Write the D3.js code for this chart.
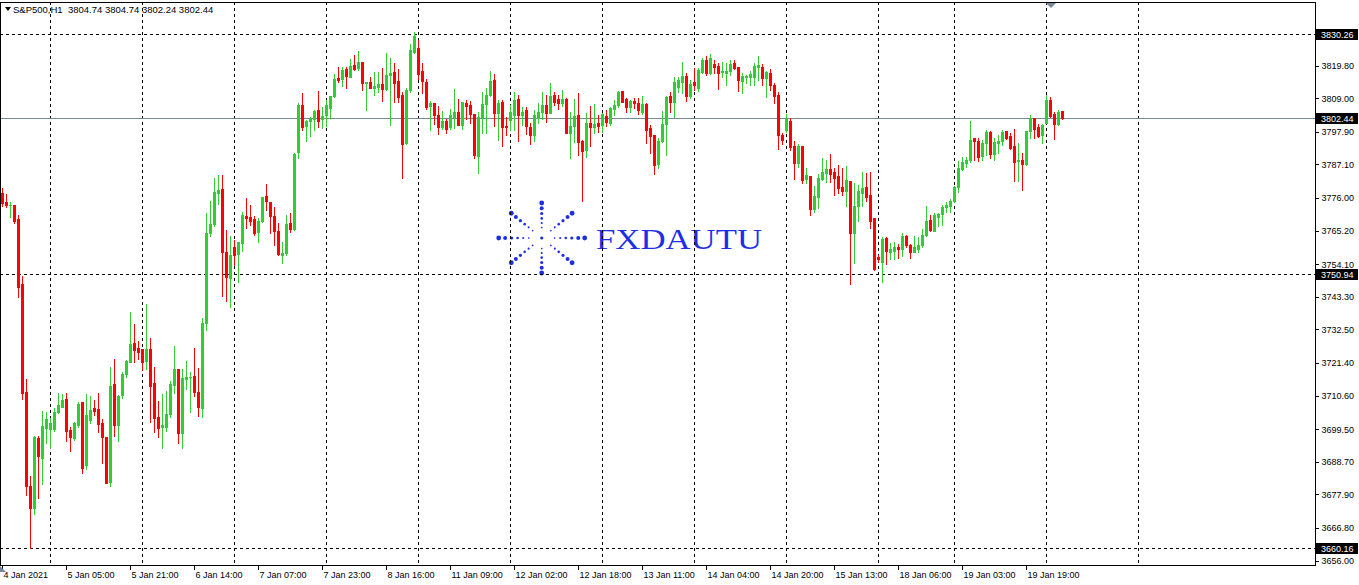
<!DOCTYPE html>
<html><head><meta charset="utf-8">
<script src="https://cdn.jsdelivr.net/npm/d3@7"></script>
<style>body{margin:0;background:#fff}svg{display:block}</style>
</head><body><svg id="c" width="1359" height="585"></svg>
<script>
const open=[
3777.6,3774.8,3773.7,3773.7,3768.9,3747.5,3711.8,3680.7,3673.5,3696.7,
3690.0,3700.0,3699.4,3699.5,3705.1,3706.9,3709.5,3699.2,3696.7,3700.9,
3708.4,3687.6,3702.5,3706.5,3706.1,3701.4,3696.8,3682.1,3714.4,3700.9,
3710.8,3717.7,3721.8,3728.0,3726.3,3726.0,3722.0,3726.0,3714.8,3703.5,
3700.3,3700.3,3704.5,3714.2,3719.4,3698.3,3716.0,3716.6,3717.1,3711.8,
3706.6,3734.5,3764.4,3767.4,3777.7,3779.0,3758.2,3749.6,3759.8,3757.4,
3761.2,3770.0,3769.7,3769.0,3764.7,3768.3,3776.6,3774.7,3770.0,3765.1,
3757.1,3757.9,3767.8,3765.7,3791.2,3806.8,3799.8,3801.6,3802.0,3805.1,
3802.0,3803.4,3805.7,3809.7,3815.8,3815.4,3818.7,3816.1,3820.0,3819.1,
3821.1,3813.9,3814.5,3812.3,3812.8,3813.7,3812.0,3816.7,3817.6,3814.7,
3810.1,3794.1,3811.7,3824.2,3825.5,3818.0,3814.5,3806.5,3807.3,3803.4,
3799.6,3801.6,3799.4,3802.9,3804.4,3800.0,3807.3,3806.7,3803.8,3790.0,
3802.9,3807.1,3810.1,3815.0,3804.2,3807.8,3799.8,3801.8,3803.4,3808.6,
3803.4,3805.1,3799.6,3796.8,3802.4,3804.5,3806.8,3804.2,3810.0,3808.6,
3807.3,3808.7,3797.4,3799.8,3803.4,3794.9,3791.9,3800.7,3799.6,3800.7,
3800.1,3803.1,3800.7,3805.4,3806.8,3811.4,3808.8,3806.2,3808.1,3807.5,
3804.3,3807.1,3799.0,3796.8,3787.2,3794.9,3800.5,3809.7,3807.6,3812.8,
3814.3,3816.4,3809.8,3814.4,3812.5,3817.8,3821.7,3817.4,3820.3,3819.7,
3817.6,3817.4,3818.1,3820.6,3819.2,3814.7,3815.9,3816.1,3816.1,3819.4,
3819.2,3815.6,3817.4,3813.4,3810.1,3796.8,3798.5,3801.6,3793.2,3787.7,
3793.2,3782.3,3783.3,3772.3,3776.4,3782.3,3784.4,3785.6,3784.5,3783.3,
3779.5,3778.4,3781.6,3764.3,3773.3,3777.7,3779.5,3777.0,3769.5,3756.5,
3754.9,3762.8,3758.2,3758.4,3759.9,3759.1,3763.4,3760.4,3758.2,3759.1,
3760.4,3763.7,3768.7,3765.2,3769.8,3770.7,3773.1,3773.3,3775.0,3779.5,
3785.5,3787.7,3788.5,3795.7,3795.0,3789.9,3794.1,3797.7,3790.5,3794.3,
3795.0,3798.2,3796.5,3793.2,3788.3,3788.5,3787.2,3798.2,3802.4,3799.4,
3796.8,3800.9,3808.4,3803.8,3800.5,3804.74];
const high=[
3779.3,3777.3,3774.8,3773.7,3770.4,3750.2,3716.1,3684.0,3697.2,3697.2,
3705.5,3705.2,3703.2,3706.5,3711.5,3711.1,3711.5,3700.3,3701.9,3708.6,
3708.6,3711.1,3710.5,3709.1,3711.4,3702.9,3697.0,3720.1,3722.7,3710.8,
3718.4,3722.3,3738.3,3734.3,3728.7,3726.0,3740.9,3729.6,3720.1,3708.8,
3711.1,3712.2,3715.4,3727.0,3719.4,3719.4,3722.0,3718.4,3726.3,3719.7,
3736.3,3771.0,3775.0,3782.6,3783.6,3783.6,3765.4,3763.4,3762.1,3761.4,
3771.3,3776.0,3773.7,3770.0,3769.3,3776.4,3780.6,3774.7,3773.0,3767.6,
3761.5,3770.4,3771.1,3791.0,3807.3,3810.8,3801.8,3802.9,3805.1,3811.4,
3806.0,3808.4,3809.7,3817.0,3819.2,3819.2,3819.4,3822.0,3823.3,3824.6,
3821.1,3814.5,3815.9,3817.7,3817.6,3819.1,3823.9,3822.2,3820.7,3818.7,
3811.2,3812.3,3826.9,3831.0,3828.3,3820.6,3815.4,3808.1,3807.5,3806.4,
3804.8,3802.1,3805.3,3812.1,3808.6,3807.8,3808.4,3808.2,3803.8,3804.3,
3811.0,3812.3,3818.0,3817.0,3808.4,3808.4,3802.9,3806.8,3811.0,3810.1,
3806.2,3806.0,3800.7,3805.1,3807.3,3811.2,3810.1,3814.1,3811.2,3810.1,
3811.7,3809.2,3804.5,3808.6,3810.6,3795.2,3804.0,3806.4,3807.0,3803.5,
3804.0,3805.1,3806.0,3808.4,3811.4,3811.4,3809.2,3808.4,3809.2,3809.2,
3809.7,3807.3,3800.1,3796.8,3795.7,3804.8,3809.7,3811.0,3816.1,3815.9,
3820.9,3817.3,3815.0,3818.9,3818.9,3822.2,3823.0,3823.5,3821.7,3820.8,
3820.9,3820.8,3821.7,3821.7,3819.4,3817.3,3816.7,3818.1,3820.6,3823.1,
3820.3,3818.1,3818.7,3813.9,3811.2,3797.6,3803.8,3802.4,3794.9,3793.8,
3793.2,3785.8,3783.3,3779.9,3783.9,3789.1,3788.5,3790.5,3785.8,3786.9,
3786.0,3786.6,3781.6,3780.8,3780.3,3784.7,3784.2,3784.7,3769.5,3757.1,
3763.2,3763.2,3761.0,3761.5,3760.8,3764.5,3763.7,3760.8,3763.5,3763.2,
3765.6,3773.3,3770.4,3771.1,3770.9,3773.7,3774.8,3775.5,3779.9,3788.2,
3789.6,3789.4,3801.5,3795.9,3795.7,3795.2,3798.5,3798.3,3795.7,3796.8,
3798.5,3798.2,3797.4,3798.8,3794.1,3790.8,3798.3,3803.4,3802.4,3800.5,
3800.5,3810.1,3809.4,3804.5,3805.1,3804.74];
const low=[
3773.3,3773.1,3769.7,3767.7,3743.2,3709.6,3677.7,3660.16,3671.3,3676.8,
3681.3,3695.0,3693.3,3699.0,3704.8,3706.8,3695.7,3692.4,3695.9,3700.3,
3685.1,3686.4,3701.4,3704.2,3698.6,3688.4,3681.6,3680.8,3697.2,3695.7,
3709.9,3716.8,3721.6,3721.8,3722.7,3719.1,3719.4,3702.0,3698.6,3697.0,
3693.3,3699.0,3703.6,3711.3,3695.0,3693.3,3712.7,3705.3,3710.5,3703.8,
3703.6,3732.3,3763.5,3766.8,3774.0,3743.7,3742.0,3739.9,3753.8,3748.3,
3758.4,3766.0,3767.0,3763.7,3761.5,3768.0,3772.0,3764.3,3760.4,3757.1,
3754.6,3757.1,3764.6,3765.4,3789.3,3798.5,3794.9,3796.5,3798.5,3799.6,
3799.2,3799.9,3802.4,3809.5,3814.5,3813.1,3812.4,3816.1,3818.3,3818.3,
3811.7,3805.1,3812.3,3810.1,3811.2,3808.1,3811.7,3800.2,3807.9,3807.9,
3782.7,3793.8,3811.2,3823.9,3815.4,3810.8,3805.3,3798.5,3800.5,3797.2,
3798.8,3797.4,3798.8,3799.0,3800.0,3798.7,3802.0,3800.7,3789.1,3784.2,
3797.4,3797.4,3809.8,3799.8,3795.2,3793.2,3796.8,3798.5,3798.5,3794.9,
3800.1,3797.2,3793.9,3794.9,3800.9,3802.0,3801.2,3804.0,3806.8,3805.4,
3806.4,3797.4,3789.1,3794.6,3790.2,3775.1,3789.4,3793.2,3797.6,3797.9,
3797.9,3799.8,3800.1,3803.4,3806.2,3807.7,3804.5,3804.5,3805.9,3803.7,
3803.7,3794.3,3791.0,3783.9,3785.8,3794.6,3790.2,3804.5,3802.9,3811.2,
3810.6,3808.2,3809.0,3811.7,3811.5,3817.3,3816.7,3817.0,3817.4,3812.1,
3815.9,3813.4,3816.7,3818.6,3811.5,3810.8,3813.9,3813.4,3813.4,3815.0,
3813.4,3809.5,3811.7,3807.5,3792.2,3793.8,3797.7,3791.9,3782.3,3786.1,
3780.9,3780.9,3770.4,3771.5,3772.6,3781.9,3781.4,3781.4,3777.0,3777.5,
3777.0,3773.3,3747.5,3754.6,3768.5,3773.3,3775.0,3766.2,3752.2,3754.9,
3748.3,3754.1,3755.7,3755.7,3756.0,3756.9,3759.9,3756.2,3758.0,3758.2,
3759.9,3763.4,3765.1,3765.1,3766.7,3767.1,3771.5,3771.5,3774.8,3778.1,
3785.2,3786.3,3788.0,3788.5,3788.3,3788.5,3790.2,3789.1,3788.5,3790.8,
3793.5,3795.5,3792.1,3781.6,3781.6,3778.6,3786.9,3795.7,3795.9,3796.3,
3794.3,3800.8,3802.7,3795.5,3800.1,3802.24];
const close=[
3774.3,3773.7,3773.8,3768.5,3746.6,3711.5,3680.8,3673.5,3697.0,3690.6,
3700.5,3702.9,3701.6,3705.1,3707.4,3709.1,3699.0,3696.8,3701.5,3707.8,
3686.7,3704.2,3705.8,3705.6,3701.2,3697.0,3681.8,3713.8,3700.9,3710.5,
3717.7,3722.0,3727.7,3725.7,3725.0,3721.8,3726.0,3713.9,3703.3,3700.0,
3700.9,3704.5,3714.4,3719.4,3698.1,3716.4,3716.9,3716.9,3711.9,3706.9,
3734.6,3764.4,3767.4,3778.0,3778.6,3758.2,3749.9,3757.1,3757.1,3761.4,
3770.4,3769.4,3768.4,3764.3,3768.5,3776.4,3775.0,3770.0,3765.2,3757.4,
3757.9,3767.4,3765.7,3790.5,3806.8,3799.6,3801.5,3802.0,3804.9,3801.5,
3803.1,3806.8,3809.7,3815.4,3815.0,3818.4,3816.4,3819.7,3818.7,3821.1,
3813.9,3814.3,3812.5,3813.2,3813.7,3812.0,3816.7,3817.4,3814.1,3809.5,
3793.9,3811.7,3825.0,3829.6,3817.0,3814.8,3806.0,3807.3,3803.4,3799.6,
3801.5,3798.8,3803.4,3804.5,3800.2,3807.8,3806.5,3803.8,3790.3,3802.9,
3807.1,3810.1,3814.7,3804.2,3807.5,3799.6,3799.6,3804.3,3808.4,3803.4,
3804.5,3799.8,3796.8,3803.4,3804.5,3806.8,3804.2,3809.7,3807.9,3807.3,
3808.6,3797.6,3799.8,3803.1,3794.6,3791.6,3800.7,3799.4,3800.5,3799.8,
3803.8,3801.2,3805.7,3806.8,3811.0,3807.9,3806.2,3808.1,3807.5,3805.1,
3807.1,3798.5,3796.5,3786.9,3794.9,3800.5,3809.5,3807.6,3814.5,3815.0,
3816.4,3809.8,3813.7,3813.4,3818.3,3821.7,3817.4,3822.2,3819.4,3817.4,
3818.1,3818.0,3820.2,3819.1,3815.0,3816.4,3816.4,3816.9,3819.7,3820.0,
3815.6,3817.8,3813.4,3809.8,3796.8,3795.2,3802.0,3793.0,3787.5,3793.2,
3782.0,3783.6,3772.3,3776.6,3782.5,3784.7,3785.6,3783.9,3782.7,3779.4,
3778.4,3781.9,3764.5,3773.3,3778.4,3779.4,3776.4,3768.5,3752.4,3755.8,
3762.4,3758.5,3759.1,3759.7,3759.1,3763.4,3760.4,3758.2,3759.9,3760.4,
3763.7,3768.4,3765.4,3770.4,3770.7,3773.1,3773.7,3775.0,3779.5,3785.8,
3788.0,3788.5,3795.2,3794.8,3789.6,3794.1,3797.7,3790.4,3794.6,3795.0,
3797.9,3795.9,3792.4,3788.0,3788.5,3787.2,3798.2,3802.4,3798.8,3796.5,
3800.1,3808.4,3803.1,3800.5,3804.3,3802.44];

const priceTicks=[3656.00,3666.80,3677.90,3688.70,3699.50,3710.60,3721.40,3732.50,3743.30,3754.10,3765.20,3776.00,3787.10,3797.90,3809.00,3819.80];
const timeLabels=["4 Jan 2021","5 Jan 05:00","5 Jan 21:00","6 Jan 14:00","7 Jan 07:00","7 Jan 23:00","8 Jan 16:00","11 Jan 09:00","12 Jan 02:00","12 Jan 18:00","13 Jan 11:00","14 Jan 04:00","14 Jan 20:00","15 Jan 13:00","18 Jan 06:00","19 Jan 03:00","19 Jan 19:00"];
const timeLabelBars=[0,16,32,48,64,80,96,112,128,144,160,176,192,208,224,240,256];
const verticalLineBars=[12,35,58,81,104,127,150,173,196,219,238,261,284];
const levelLines=[3830.26,3750.94,3660.16];
const lastPrice=3802.44;
const headerText="S&P500,H1  3804.74 3804.74 3802.24 3802.44";
const logoText="FXDAUTU";

const SANS='"Liberation Sans",Arial,sans-serif';
const W=1359,H=585,PL=0,PR=1315,PT=2,PB=565;
const svg=d3.select('#c');
svg.append('rect').attr('width',W).attr('height',H).attr('fill','#fff');

const x=d3.scaleLinear().domain([0,328]).range([2.7,1314.7]);
const y=d3.scaleLinear().domain([3660.16,3830.26]).range([548,34]);
const px=i=>Math.floor(x(i));
const py=v=>Math.round(y(v));

const plot=svg.append('g');
// logo
const logo=plot.append('g').attr('transform','translate(541.7,238)').attr('fill','#1d2fe6');
const fr=[1,0.85,0.7,0.56,0.43,0.3],rr=[2.4,2.0,1.6,1.3,1.05,0.85];
for(let k=0;k<8;k++){
  const a=k*Math.PI/4;
  fr.forEach((f,j)=>{
    logo.append('circle').attr('cx',43*Math.cos(a)*f).attr('cy',35*Math.sin(a)*f).attr('r',rr[j]);
  });
}
logo.append('circle').attr('r',1.6);
plot.append('text').attr('x',596).attr('y',249)
  .style('font-family','"Liberation Serif","DejaVu Serif",serif')
  .attr('font-size',30).attr('fill','#1d2fe6').attr('textLength',166).attr('lengthAdjust','spacingAndGlyphs').text(logoText);

// dashed verticals
plot.selectAll('.vl').data(verticalLineBars).enter().append('line')
  .attr('x1',d=>px(d)+0.5).attr('x2',d=>px(d)+0.5).attr('y1',PT).attr('y2',PB)
  .attr('stroke','#000').attr('stroke-dasharray','3,3').attr('shape-rendering','crispEdges');
// dashed levels
plot.selectAll('.hl').data(levelLines).enter().append('line')
  .attr('x1',PL).attr('x2',PR).attr('y1',d=>py(d)+0.5).attr('y2',d=>py(d)+0.5)
  .attr('stroke','#000').attr('stroke-dasharray','3,3').attr('shape-rendering','crispEdges');
// last price line
plot.append('line').attr('x1',PL).attr('x2',PR).attr('y1',py(lastPrice)+0.5).attr('y2',py(lastPrice)+0.5)
  .attr('stroke','#778899').attr('shape-rendering','crispEdges');

// candles
const idx=d3.range(open.length);
const col=i=>close[i]>open[i]?'#32CD32':(close[i]<open[i]?'#FF0000':'#00FF00');
const cg=plot.append('g').attr('shape-rendering','crispEdges');
cg.selectAll('.w').data(idx).enter().append('rect')
  .attr('x',i=>px(i)).attr('width',1)
  .attr('y',i=>py(high[i])).attr('height',i=>Math.max(1,py(low[i])-py(high[i])+1))
  .attr('fill',col);
cg.selectAll('.b').data(idx).enter().append('rect')
  .attr('x',i=>px(i)-1).attr('width',3)
  .attr('y',i=>py(Math.max(open[i],close[i])))
  .attr('height',i=>Math.max(1,py(Math.min(open[i],close[i]))-py(Math.max(open[i],close[i]))+1))
  .attr('fill',col);

// frame
svg.append('rect').attr('x',PL+0.5).attr('y',PT+0.5).attr('width',PR-PL).attr('height',PB-PT)
  .attr('fill','none').attr('stroke','#000').attr('shape-rendering','crispEdges');

// right axis
const ya=svg.append('g').attr('transform',`translate(${PR+0.5},0)`)
  .call(d3.axisRight(y).tickValues(priceTicks).tickFormat(d3.format('.2f')).tickSize(3).tickPadding(3));
ya.select('.domain').remove();
ya.selectAll('line').attr('stroke','#000').attr('shape-rendering','crispEdges');
ya.selectAll('text').attr('font-size',9).attr('fill','#000').style('font-family',SANS);

// level boxes
const boxes=levelLines.concat([lastPrice]);
const bg=svg.append('g');
boxes.forEach(v=>{
  const yy=py(v);
  bg.append('rect').attr('x',PR+1).attr('y',yy-5).attr('width',42).attr('height',11).attr('fill','#000');
  bg.append('text').attr('x',PR+6).attr('y',yy+3.5).attr('font-size',9).attr('fill','#fff').style('font-family',SANS).text(d3.format('.2f')(v));
});

// bottom axis
const xa=svg.append('g').attr('transform',`translate(0.5,${PB+0.5})`)
  .call(d3.axisBottom(x).tickValues(timeLabelBars).tickFormat((d,k)=>timeLabels[k]).tickSize(4).tickPadding(2));
xa.select('.domain').remove();
xa.selectAll('.tick').attr('transform',d=>`translate(${px(d)},0)`);
xa.selectAll('line').attr('stroke','#000').attr('shape-rendering','crispEdges');
xa.selectAll('text').attr('text-anchor','start').attr('x',1).attr('font-size',9).attr('fill','#000').style('font-family',SANS);

// markers
svg.append('path').attr('d','M1046,3L1056,3L1051,8Z').attr('fill','#778899');
svg.append('path').attr('d','M0,566L0,572L6,572Z').attr('fill','#778899');
svg.append('path').attr('d','M5,7L11,7L8,11Z').attr('fill','#000');
svg.append('text').attr('x',13).attr('y',13).attr('font-size',9.5).attr('fill','#000')
  .style('font-family',SANS).style('white-space','pre').text(headerText);
</script></body></html>
